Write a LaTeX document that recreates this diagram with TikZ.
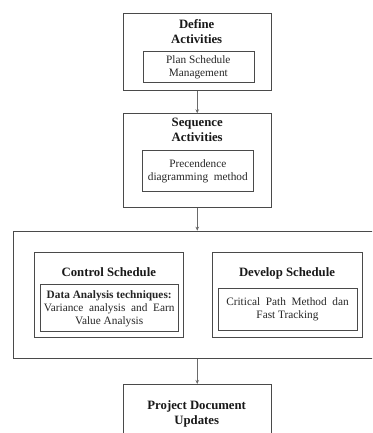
\documentclass[tikz,border=0pt]{standalone}
\usepackage{fontspec}
\setmainfont{Liberation Serif}
\usetikzlibrary{arrows.meta}
\definecolor{boxline}{HTML}{4A4A4A}
\definecolor{arrline}{HTML}{6A6A6A}
\tikzset{
  box/.style={draw=boxline, line width=1.1pt, minimum width=#1, inner sep=0pt, anchor=north west, rectangle},
  title/.style={font=\fontsize{12.75pt}{15pt}\selectfont\bfseries, align=center, inner sep=0pt, text=black!90},
  body/.style={font=\fontsize{11.3pt}{13pt}\selectfont, align=center, inner sep=0pt, text=black!85},
  conn/.style={draw=arrline, line width=0.8pt},
  arr/.style={conn, -{Stealth[length=4pt,width=3.5pt]}},
}
\begin{document}
\begin{tikzpicture}[x=1pt,y=-1pt]
\clip (0,0) rectangle (372,433);
\fill[white] (0,0) rectangle (372,433);
% Define Activities
\node[box=148pt, minimum height=76.7pt] (def) at (122.7,13.3) {};
\node[title] (deft) at (196.7,31.5) {Define\\Activities};
\node[box=111.3pt, minimum height=31pt] (defi) at (142.7,50.7) {};
\node[body] (defb) at (198.3,67.3) {Plan Schedule\\Management};
% Sequence Activities
\node[box=148pt, minimum height=94pt] (seq) at (122.7,113.3) {};
\node[title] (seqt) at (197.2,129.5) {Sequence\\Activities};
\node[box=111pt, minimum height=40.7pt] (seqi) at (142.3,150) {};
\node[body] (seqb) at (197.8,171) {Precendence\\diagramming\ \ method};
% big container
\node[box=375pt, minimum height=127.6pt] (big) at (13.3,230.7) {};
% Control Schedule
\node[box=149pt, minimum height=85pt] (ctl) at (34.3,252.3) {};
\node[title] (ctlt) at (108.8,271.7) {Control Schedule};
\node[box=138.3pt, minimum height=46.4pt] (ctli) at (40,284.3) {};
\node[body] (ctlb) at (109.2,308.3) {\textbf{Data Analysis techniques:}\\Variance\ \ analysis\ \ and\ \ Earn\\Value Analysis};
% Develop Schedule
\node[box=149.4pt, minimum height=85pt] (dev) at (212.3,252.3) {};
\node[title] (devt) at (287,273.3) {Develop Schedule};
\node[box=138.4pt, minimum height=42.3pt] (devi) at (218.3,287.7) {};
\node[body] (devb) at (287.5,309.5) {Critical\ \ Path\ \ Method\ \ dan\\Fast Tracking};
% Project Document Updates
\node[box=148pt, minimum height=76pt] (proj) at (122.7,384) {};
\node[title] (projt) at (196.7,413.5) {Project Document\\Updates};
% connectors
\draw[arr] (def.south) -- (seq.north);
\draw[arr] (seq.south) -- (seq.south |- big.north);
\draw[arr] (proj.north |- big.south) -- (proj.north);
\end{tikzpicture}
\end{document}
